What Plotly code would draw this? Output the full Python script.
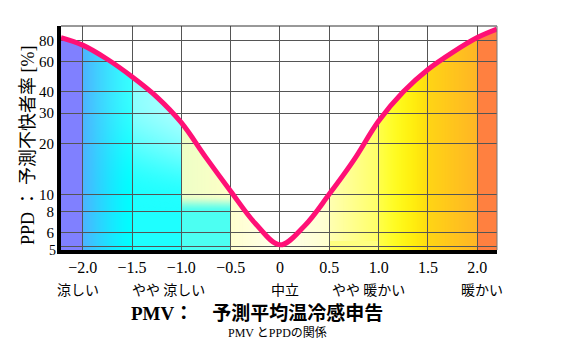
import base64
import struct
import zlib

import numpy as np
import plotly.graph_objects as go

# ---------------- data ----------------
pmv = [-2.22, -2.0, -1.75, -1.5, -1.25, -1.0, -0.75, -0.5, -0.25, 0.0,
       0.25, 0.5, 0.75, 1.0, 1.25, 1.5, 1.75, 2.0, 2.2]
ppd = [83, 75, 62, 49, 37.4, 26.4, 16.5, 10.5, 6.8, 5.1,
       6.6, 10.1, 16, 27, 40, 54, 68, 83, 93]

x_tickvals = [-2.0, -1.5, -1.0, -0.5, 0.0, 0.5, 1.0, 1.5, 2.0]
x_ticktext = ["\u22122.0", "\u22121.5", "\u22121.0", "\u22120.5", "0",
              "0.5", "1.0", "1.5", "2.0"]
y_tickvals = [5, 6, 8, 10, 20, 30, 40, 60, 80]
y_ticktext = ["5", "6", "8", "10", "20", "30", "40", "60", "80"]

sense_labels = ["涼しい", "やや 涼しい", "中立", "やや 暖かい", "暖かい"]
sense_pmv = [-2.0, -1.0, 0.0, 1.0, 2.0]

x_title = "PMV：　予測平均温冷感申告"
y_title = "PPD ： 予測不快者率 [%]"
caption = "PMV とPPDの関係"

# ---------------- layout geometry ----------------
W_FIG, H_FIG = 576, 361
M_L, M_R, M_T, M_B = 61, 79, 26, 111
PW, PH = W_FIG - M_L - M_R, H_FIG - M_T - M_B
X0, X1 = -2.22, 2.2
LY0, LY1 = np.log10(4.76), np.log10(97)

# ---------------- background colour wash (decoration) ----------------
P = np.array([128, 128, 255.0])
C = np.array([0, 255, 255.0])
WH = np.array([255, 255, 255.0])
YE = np.array([255, 255, 0.0])
LYE = np.array([255, 255, 128.0])
OR = np.array([255, 128, 64.0])


def smooth(a, b, v):
    t = min(max((v - a) / (b - a), 0.0), 1.0)
    return t * t * (3 - 2 * t)


def mix(base, others):
    tot = sum(f for _, f in others)
    col = base * (1 - tot)
    for c, f in others:
        col = col + c * f
    return col


def pix(x, h, hc):
    if h > hc:
        return WH
    if x < -2.0:
        return P
    if x < -1.5:
        t = (x + 2.0) / 0.5
        p = 0.6 * (1 - t) ** 1.3
        w = 0.22 * t * smooth(1.0, 1.6, h)
        return mix(C, [(P, p), (WH, w)])
    if x < -1.0:
        t = (x + 1.5) / 0.5
        w = 0.12 + 0.42 * smooth(1.0, 1.55, h) + 0.15 * t * smooth(0.9, 1.3, h)
        return mix(C, [(WH, w)])
    if x < -0.5:
        t = (x + 1.0) / 0.5
        up = smooth(0.9, 1.0, h)
        low = mix(C, [(WH, 0.25), (YE, 0.05)])
        high = mix(WH, [(YE, 0.22), (C, 0.07 * (1 - t))])
        return low * (1 - up) + high * up
    if x < 0.5:
        d = 0.07 + 0.12 * abs(x) / 0.5
        return mix(WH, [(YE, d)])
    if x < 1.0:
        t = (x - 0.5) / 0.5
        if h < np.log10(5.35):
            return LYE
        return mix(WH, [(YE, 0.3 + 0.3 * t)])
    if x < 1.5:
        t = (x - 1.0) / 0.5
        return mix(YE, [(WH, 0.3 * (1 - t) ** 2), (OR, 0.28 * t ** 2)])
    if x < 2.0:
        t = (x - 1.5) / 0.5
        return mix(YE, [(OR, 0.33 + 0.25 * t)])
    return OR


xs = X0 + (np.arange(PW) + 0.5) / PW * (X1 - X0)
hs = LY1 - (np.arange(PH) + 0.5) / PH * (LY1 - LY0)
hc_col = np.interp(xs, pmv, np.log10(ppd))
img = np.zeros((PH, PW, 3))
for j, h in enumerate(hs):
    for i, x in enumerate(xs):
        img[j, i] = pix(x, h, hc_col[i])
img = np.clip(img, 0, 255).astype(np.uint8)


def png_bytes(arr):
    h, w, _ = arr.shape
    raw = b"".join(b"\x00" + arr[r].tobytes() for r in range(h))

    def chunk(t, d):
        return (struct.pack(">I", len(d)) + t + d
                + struct.pack(">I", zlib.crc32(t + d) & 0xFFFFFFFF))

    return (b"\x89PNG\r\n\x1a\n"
            + chunk(b"IHDR", struct.pack(">IIBBBBB", w, h, 8, 2, 0, 0, 0))
            + chunk(b"IDAT", zlib.compress(raw, 9))
            + chunk(b"IEND", b""))


src = "data:image/png;base64," + base64.b64encode(png_bytes(img)).decode()

# ---------------- figure ----------------
SERIF = "Liberation Serif, Noto Sans CJK JP, serif"
JP = "Noto Sans CJK JP, sans-serif"

fig = go.Figure()
fig.add_trace(go.Scatter(
    x=pmv, y=ppd, mode="lines",
    line=dict(color="#ff1076", width=5, shape="spline"),
    hoverinfo="skip", showlegend=False))

# the lowest tick label ("5") is drawn separately, nudged down, as in the reference
axis_ticktext = [""] + y_ticktext[1:]

fig.update_layout(
    width=W_FIG, height=H_FIG,
    margin=dict(l=M_L, r=M_R, t=M_T, b=M_B),
    paper_bgcolor="white", plot_bgcolor="white",
    showlegend=False,
    images=[dict(source=src, xref="paper", yref="paper", x=0, y=1,
                 sizex=1, sizey=1, xanchor="left", yanchor="top",
                 sizing="stretch", layer="below")],
    xaxis=dict(range=[X0, X1], tickvals=x_tickvals, ticktext=x_ticktext,
               showgrid=True, gridcolor="#555555", gridwidth=1,
               zeroline=False, showline=True, linecolor="black", linewidth=4,
               ticks="", tickfont=dict(family=SERIF, size=16, color="black")),
    yaxis=dict(type="log", range=[LY0, LY1], tickvals=y_tickvals,
               ticktext=axis_ticktext, showgrid=True, gridcolor="#555555",
               gridwidth=1, zeroline=False, showline=True, linecolor="black",
               linewidth=4, ticks="",
               tickfont=dict(family=SERIF, size=15, color="black")),
    shapes=[
        dict(type="line", xref="paper", yref="paper", x0=0, x1=1, y0=1, y1=1,
             line=dict(color="#333333", width=1), layer="above"),
        dict(type="line", xref="paper", yref="paper", x0=1, x1=1, y0=0, y1=1,
             line=dict(color="#777777", width=1), layer="above"),
    ],
)

fig.add_annotation(x=(57 - M_L) / PW,
                   y=(np.log10(y_tickvals[0]) - LY0) / (LY1 - LY0),
                   xref="paper", yref="paper", text=y_ticktext[0],
                   showarrow=False, xanchor="right", yanchor="middle",
                   yshift=-4, borderpad=0,
                   font=dict(family=SERIF, size=14, color="black"))

sense_shift = [-5, -13, 5, -10, 5]
for lab, xv, sh in zip(sense_labels, sense_pmv, sense_shift):
    fig.add_annotation(x=xv, y=-(289 - (M_T + PH)) / PH, xref="x", yref="paper",
                       text=lab, showarrow=False, xshift=sh,
                       font=dict(family=JP, size=14, color="black"),
                       xanchor="center", yanchor="middle")

fig.add_annotation(x=(257 - M_L) / PW, y=-(313 - (M_T + PH)) / PH,
                   xref="paper", yref="paper", text="<b>" + x_title + "</b>",
                   showarrow=False, xanchor="center", yanchor="middle",
                   font=dict(family=SERIF, size=19, color="black"))
fig.add_annotation(x=(277 - M_L) / PW, y=-(333 - (M_T + PH)) / PH,
                   xref="paper", yref="paper", text=caption,
                   showarrow=False, xanchor="center", yanchor="middle",
                   font=dict(family=SERIF, size=12, color="black"))
fig.add_annotation(x=(28 - M_L) / PW, y=((M_T + PH) - 145) / PH,
                   xref="paper", yref="paper", text=y_title, textangle=-90,
                   showarrow=False, xanchor="center", yanchor="middle",
                   font=dict(family=SERIF, size=18, color="black"))

fig.write_html("out.html", config={"displayModeBar": False},
               post_script="document.body.style.margin='0';")
